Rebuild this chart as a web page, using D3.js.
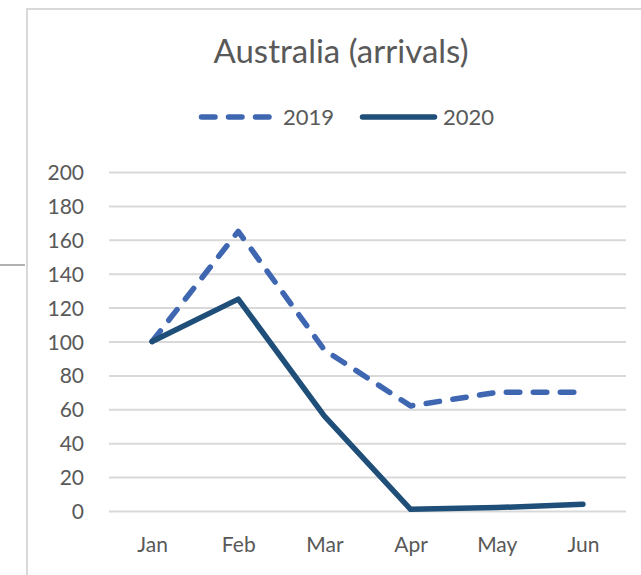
<!DOCTYPE html>
<html>
<head>
<meta charset="utf-8">
<script src="https://cdn.jsdelivr.net/npm/d3@7"></script>
<style>
  html, body { margin: 0; padding: 0; background: #ffffff; }
  svg { display: block; font-family: Lato, "Open Sans", sans-serif; }
</style>
</head>
<body>
<svg id="chart" width="641" height="575"></svg>
<script>
// Monthly arrivals index, 2019 vs 2020
const months = ["Jan", "Feb", "Mar", "Apr", "May", "Jun"];
const arrivals2019 = [100, 165, 95, 62, 70, 70];
const arrivals2020 = [100, 125, 56, 1, 2, 4];
const yTicks = [0, 20, 40, 60, 80, 100, 120, 140, 160, 180, 200];
const seriesNames = ["2019", "2020"];

const svg = d3.select("#chart");
const textColor = "#595959";
const gridColor = "#d9d9d9";
const color2019 = "#3f67b1";
const color2020 = "#1f4e79";

// Chart frame
svg.append("line").attr("x1", 27).attr("x2", 27).attr("y1", 9).attr("y2", 575)
  .attr("stroke", "#d9d9d9").attr("stroke-width", 2);
svg.append("line").attr("x1", 26).attr("x2", 641).attr("y1", 9).attr("y2", 9)
  .attr("stroke", "#d9d9d9").attr("stroke-width", 2);
svg.append("line").attr("x1", 0).attr("x2", 25).attr("y1", 265).attr("y2", 265)
  .attr("stroke", "#7f7f7f").attr("stroke-width", 1.2);

// Scales
const x = d3.scalePoint().domain(months).range([109, 626]).padding(0.5);
const y = d3.scaleLinear().domain([0, 200]).range([511, 172]);

// Horizontal gridlines with value labels
const yAxis = svg.append("g")
  .attr("transform", "translate(109,0)")
  .call(d3.axisLeft(y).tickValues(yTicks).tickSize(-517).tickPadding(25).tickFormat(d3.format("d")));
yAxis.select(".domain").remove();
yAxis.selectAll(".tick line").attr("stroke", gridColor).attr("stroke-width", 2);
yAxis.selectAll(".tick text")
  .attr("fill", textColor).attr("font-size", 21).attr("font-family", "Lato, sans-serif")
  .attr("dy", "0.36em");

// Month labels
const xAxis = svg.append("g")
  .attr("transform", "translate(0,511)")
  .call(d3.axisBottom(x).tickSize(0).tickPadding(26));
xAxis.select(".domain").remove();
xAxis.selectAll(".tick text")
  .attr("fill", textColor).attr("font-size", 21).attr("font-family", "Lato, sans-serif");

// Series lines
const line = d3.line().x((d, i) => x(months[i])).y(d => y(d));

svg.append("path").datum(arrivals2019)
  .attr("d", line).attr("fill", "none")
  .attr("stroke", color2019).attr("stroke-width", 5.5)
  .attr("stroke-dasharray", "13.5,13.5").attr("stroke-linecap", "round").attr("stroke-linejoin", "round");

svg.append("path").datum(arrivals2020)
  .attr("d", line).attr("fill", "none")
  .attr("stroke", color2020).attr("stroke-width", 5.5)
  .attr("stroke-linecap", "round").attr("stroke-linejoin", "round");

// Title
svg.append("text").attr("x", 341).attr("y", 63).attr("text-anchor", "middle")
  .attr("fill", textColor).attr("font-size", 33).attr("font-family", "Lato, sans-serif")
  .text("Australia (arrivals)");

// Legend
const legend = [
  { name: seriesNames[0], color: color2019, dash: "13.5,13.5", x1: 201.5, x2: 270.5, tx: 283 },
  { name: seriesNames[1], color: color2020, dash: null, x1: 362.5, x2: 434.5, tx: 443 }
];
const lg = svg.append("g");
legend.forEach(l => {
  lg.append("line").attr("x1", l.x1).attr("x2", l.x2).attr("y1", 117).attr("y2", 117)
    .attr("stroke", l.color).attr("stroke-width", 5.5).attr("stroke-linecap", "round")
    .attr("stroke-dasharray", l.dash);
  lg.append("text").attr("x", l.tx).attr("y", 117).attr("dy", "0.36em")
    .attr("fill", textColor).attr("font-size", 22).attr("font-family", "Lato, sans-serif")
    .text(l.name);
});
</script>
</body>
</html>
